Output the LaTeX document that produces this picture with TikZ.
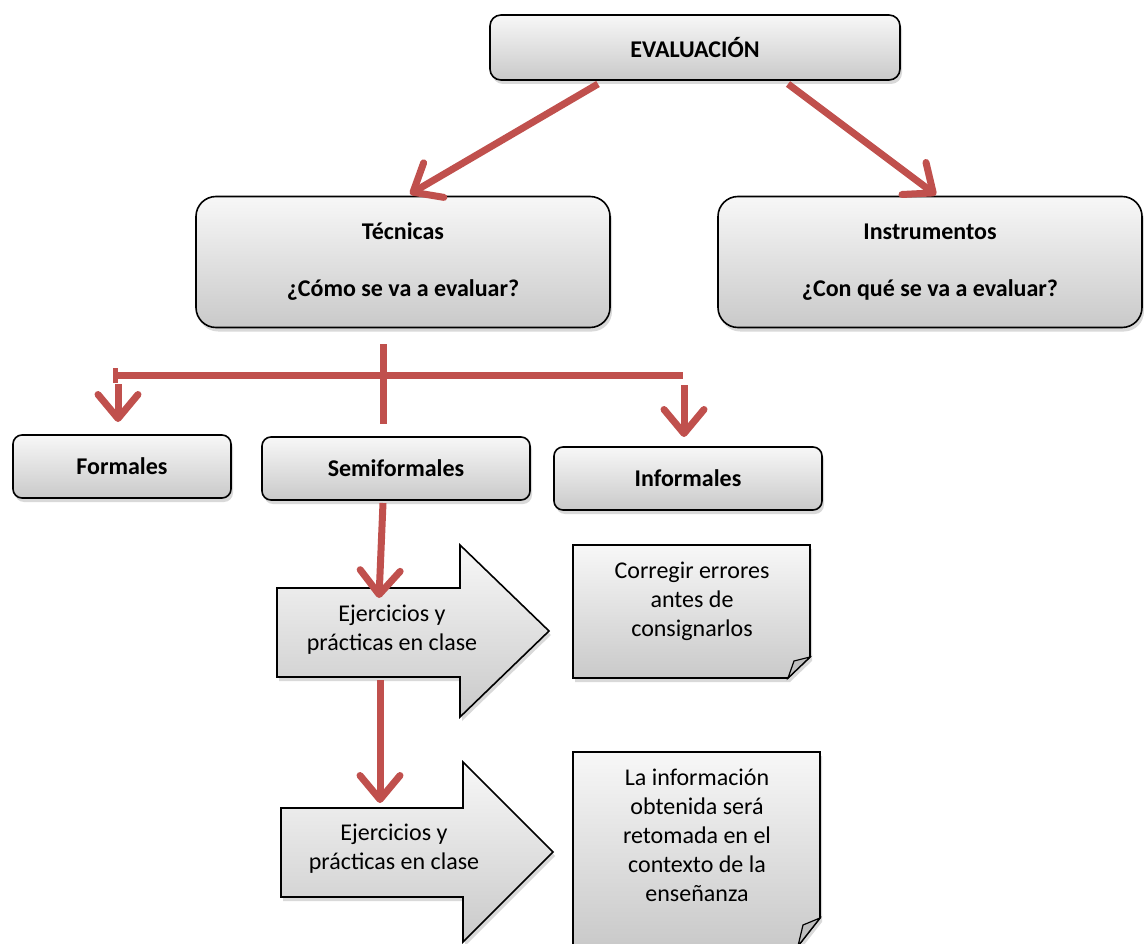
\documentclass[tikz,border=0pt]{standalone}
\usepackage{fontspec}
\setmainfont{Carlito}
\usetikzlibrary{arrows.meta,shadows,calc}
\definecolor{arrred}{HTML}{C0504D}
\tikzset{
  box/.style={draw=black, line width=1.6pt, top color=gray!6, bottom color=gray!42,
    drop shadow={shadow xshift=2pt, shadow yshift=-4pt, opacity=0.3},
    font=\fontsize{24}{29}\selectfont\bfseries, align=center, inner sep=0pt},
  shapebox/.style={draw=black, line width=1.6pt, top color=gray!6, bottom color=gray!42,
    drop shadow={shadow xshift=2pt, shadow yshift=-4pt, opacity=0.3}},
  plain/.style={font=\fontsize{24}{29}\selectfont, align=center, inner sep=0pt},
  conn/.style={draw=arrred, line width=7pt},
  conna/.style={conn, -{Straight Barb[length=24pt,width=40pt,round]}},
}
\begin{document}
\begin{tikzpicture}[x=1pt,y=-1pt]
\useasboundingbox (0,0) rectangle (1144,944);

% main boxes
\node[box, rounded corners=11pt, minimum width=410pt, minimum height=65pt] (eval) at (695,47.5) {EVALUACIÓN};
\node[box, rounded corners=20pt, minimum width=414pt, minimum height=131pt] (tec) at (403,262) {Técnicas\\[28pt]¿Cómo se va a evaluar?};
\node[box, rounded corners=20pt, minimum width=424pt, minimum height=131pt] (ins) at (930,262) {Instrumentos\\[28pt]¿Con qué se va a evaluar?};
\node[box, rounded corners=9pt, minimum width=218pt, minimum height=63pt] (form) at (122,466.5) {Formales};
\node[box, rounded corners=9pt, minimum width=268pt, minimum height=63pt] (semi) at (396,468.5) {Semiformales};
\node[box, rounded corners=9pt, minimum width=268pt, minimum height=63pt] (infm) at (688,478.5) {Informales};

% block arrows
\path[shapebox] (277,588) -- (460,588) -- (460,545) -- (549,631) -- (460,717) -- (460,677) -- (277,677) -- cycle;
\node[plain] (ej1) at (392,630) {Ejercicios y\\prácticas en clase};
\path[shapebox] (281,808) -- (463,808) -- (463,762) -- (553,852) -- (463,942) -- (463,897) -- (281,897) -- cycle;
\node[plain] (ej2) at (394,849) {Ejercicios y\\prácticas en clase};

% notes
\path[shapebox] (573,545) -- (810,545) -- (810,657) -- (788,678) -- (573,678) -- cycle;
\fill[gray!50, draw=black, line width=1.2pt] (788,678) -- (794,661) -- (810,657) -- cycle;
\node[plain] (n1) at (692,601) {Corregir errores\\antes de\\consignarlos};
\path[shapebox] (573,752) -- (820,752) -- (820,918) -- (798,946) -- (573,946) -- cycle;
\fill[gray!50, draw=black, line width=1.2pt] (798,946) -- (803,925) -- (820,918) -- cycle;
\node[plain] (n2) at (697,835) {La información\\obtenida será\\retomada en el\\contexto de la\\enseñanza};

% connectors
\coordinate (e1) at (598,84);
\coordinate (t1) at (410,194);
\coordinate (e2) at (788,84);
\coordinate (i1) at (936,195);
\draw[conna] (e1) -- (t1);
\draw[conna] (e2) -- (i1);

\coordinate (tb) at (383,344);
\coordinate (tc) at (383,424);
\draw[conn] (tb) -- (tc);
\coordinate (hl) at (113,375);
\coordinate (hr) at (683,375);
\draw[conn] (hl) -- (hr);
\draw[draw=arrred, line width=5pt] (115,368) -- (115,383);
\coordinate (fa) at (118,384);
\coordinate (fb) at (118,422);
\draw[conna] (fa) -- (fb);
\coordinate (ia) at (684,385);
\coordinate (ib) at (684,437);
\draw[conna] (ia) -- (ib);

\coordinate (s1) at (383,503);
\coordinate (s2) at (379,598);
\draw[conna] (s1) -- (s2);
\coordinate (s3) at (380,680);
\coordinate (s4) at (380,803);
\draw[conna] (s3) -- (s4);
\end{tikzpicture}
\end{document}
